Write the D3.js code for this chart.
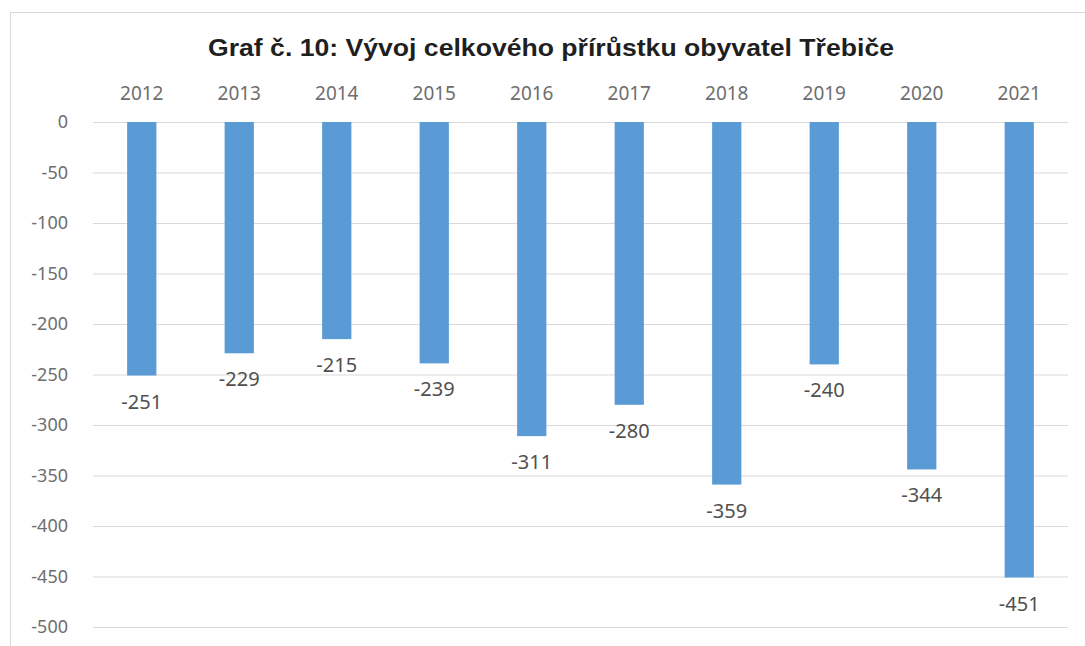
<!DOCTYPE html>
<meta charset="utf-8">
<style>
body { margin: 0; background: #fff; }
.grid .tick line { stroke: #d9d9d9; }
.grid path.domain { display: none; }
.yaxis path.domain, .yaxis .tick line { display: none; }
.yaxis .tick text, .xaxis .tick text { fill: #6e6e6e; font-family: "Noto Sans", "Open Sans", sans-serif; }
.xaxis path.domain, .xaxis .tick line { display: none; }
</style>
<body>
<script src="https://d3js.org/d3.v7.min.js"></script>
<script>
var years = ["2012","2013","2014","2015","2016","2017","2018","2019","2020","2021"];
var values = [-251, -229, -215, -239, -311, -280, -359, -240, -344, -451];
var yTicks = [0, -50, -100, -150, -200, -250, -300, -350, -400, -450, -500];
var title = "Graf č. 10: Vývoj celkového přírůstku obyvatel Třebiče";

var W = 1085, H = 646;
var margin = {top: 122, left: 93, right: 17, bottom: 19};
var width = W - margin.left - margin.right,
    height = H - margin.top - margin.bottom;

var svg = d3.select("body").append("svg")
    .attr("width", W)
    .attr("height", H);

// chart frame
svg.append("rect")
    .attr("x", 10.5).attr("y", 12.5)
    .attr("width", 1100).attr("height", 660)
    .attr("fill", "#fff")
    .attr("stroke", "#d9d9d9");

svg.append("text")
    .attr("x", 208).attr("y", 56)
    .attr("textLength", 686)
    .attr("lengthAdjust", "spacingAndGlyphs")
    .style("font-family", "'Liberation Sans', Arial, sans-serif")
    .style("font-weight", "bold")
    .style("font-size", "23px")
    .attr("fill", "#1f1f1f")
    .text(title);

var g = svg.append("g")
    .attr("transform", "translate(" + margin.left + "," + margin.top + ")");

var x = d3.scaleBand()
    .domain(years)
    .range([0, width])
    .paddingInner(0.7)
    .paddingOuter(0.35);

var y = d3.scaleLinear()
    .domain([0, -500])
    .range([0, 505]);

g.append("g").attr("class", "grid")
    .call(d3.axisLeft(y).tickValues(yTicks).tickSize(-width).tickFormat(""));

// plain hyphen as minus sign, like the original
g.append("g").attr("class", "yaxis")
    .attr("transform", "translate(-22,0)")
    .call(d3.axisLeft(y).tickValues(yTicks).tickSize(0).tickFormat(function(d) { return String(d); }))
    .selectAll("text").style("font-size", "18px");

g.append("g").attr("class", "xaxis")
    .attr("transform", "translate(0,-19)")
    .call(d3.axisTop(x).tickSize(0))
    .selectAll("text").style("font-size", "19px");

g.selectAll(".bar")
    .data(values)
    .enter().append("rect")
    .attr("class", "bar")
    .attr("x", function(d, i) { return x(years[i]); })
    .attr("y", y(0))
    .attr("width", x.bandwidth())
    .attr("height", function(d) { return y(d) - y(0); })
    .attr("fill", "#5b9bd5");

g.selectAll(".label")
    .data(values)
    .enter().append("text")
    .attr("class", "label")
    .attr("x", function(d, i) { return x(years[i]) + x.bandwidth() / 2; })
    .attr("y", function(d) { return y(d) + 33; })
    .attr("text-anchor", "middle")
    .style("font-family", "'Noto Sans', 'Open Sans', sans-serif")
    .style("font-size", "20px")
    .attr("fill", "#505050")
    .text(function(d) { return d; });
</script>
</body>
